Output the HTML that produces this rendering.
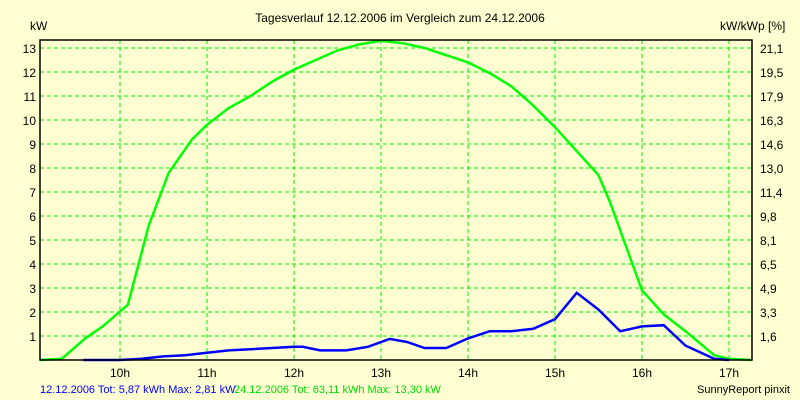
<!DOCTYPE html>
<html><head><meta charset="utf-8"><style>
body{margin:0;background:#ffffd2;}
svg{display:block;font-family:"Liberation Sans",sans-serif;}
</style></head><body>
<svg id="c" width="800" height="400">
<rect width="800" height="400" fill="#ffffd2"/>
<text x="400" y="22" text-anchor="middle" font-size="12">Tagesverlauf 12.12.2006 im Vergleich zum 24.12.2006</text>
<text x="30" y="30" font-size="12">kW</text>
<text x="720" y="30" font-size="12">kW/kWp [%]</text>
<g id="grid"></g>
<g id="series"></g>
<g id="axes"></g>
<text x="40" y="393" font-size="11" fill="#0000ff">12.12.2006 Tot: 5,87 kWh Max: 2,81 kW</text>
<text x="234" y="393" font-size="11" fill="#00dd00">24.12.2006 Tot: 63,11 kWh Max: 13,30 kW</text>
<text x="790" y="393" font-size="11" text-anchor="end">SunnyReport pinxit</text>
</svg>
<script>
const hourTicks=[10,11,12,13,14,15,16,17];
const yTicks=[1,2,3,4,5,6,7,8,9,10,11,12,13];
const rightLabels=["1,6","3,3","4,9","6,5","8,1","9,8","11,4","13,0","14,6","16,3","17,9","19,5","21,1"];
const greenT=[9.08,9.33,9.6,9.8,10.09,10.33,10.56,10.83,11,11.25,11.5,11.75,12,12.25,12.5,12.75,13,13.25,13.5,13.75,14,14.25,14.5,14.75,15,15.25,15.5,15.63,15.8,16,16.25,16.5,16.83,17,17.26];
const greenV=[0,0.05,0.9,1.4,2.3,5.6,7.8,9.2,9.8,10.5,11.0,11.6,12.1,12.5,12.9,13.15,13.3,13.2,13.0,12.7,12.4,11.95,11.4,10.6,9.7,8.7,7.7,6.6,4.9,2.9,1.9,1.2,0.2,0.05,0];
const blueT=[9.58,10,10.25,10.5,10.75,11,11.25,11.5,11.75,12,12.1,12.3,12.6,12.85,13.1,13.3,13.5,13.75,14,14.25,14.5,14.75,15,15.25,15.5,15.75,16,16.25,16.5,16.83,17];
const blueV=[0,0,0.05,0.15,0.2,0.3,0.4,0.45,0.5,0.55,0.55,0.4,0.4,0.55,0.88,0.75,0.5,0.5,0.9,1.2,1.2,1.3,1.7,2.8,2.1,1.2,1.4,1.45,0.6,0.05,0];
const NS="http://www.w3.org/2000/svg";
const X=t=>120+(t-10)*87, Y=v=>360-v*24;
function mk(tag,attrs,parent){const e=document.createElementNS(NS,tag);for(const k in attrs)e.setAttribute(k,attrs[k]);document.getElementById(parent).appendChild(e);return e;}
hourTicks.forEach(h=>{
 const l=mk('line',{x1:X(h),x2:X(h),y1:40,y2:360,stroke:'#00ee00','stroke-dasharray':'4,3'},'grid');
 
 
 const t=mk('text',{x:X(h),y:377,'text-anchor':'middle','font-size':12},'axes');t.textContent=h+'h';
 
 
});
yTicks.forEach((v,i)=>{
 const l=mk('line',{x1:40,x2:752,y1:Y(v),y2:Y(v),stroke:'#00ee00','stroke-dasharray':'4,3'},'grid');
 
 
 const t=mk('text',{x:36,y:Y(v)+5,'text-anchor':'end','font-size':12},'axes');t.textContent=v;
 
 
 const r=mk('text',{x:760,y:Y(v)+5,'font-size':12},'axes');r.textContent=rightLabels[i];
 
 
});
const fr=mk('path',{d:'M40,40H752V360H40Z',fill:'none',stroke:'#000','stroke-width':1.5},'axes');


const g=mk('polyline',{points:greenT.map((t,i)=>X(t)+','+Y(greenV[i])).join(' '),fill:'none',stroke:'#00ff00','stroke-width':2.5},'series');


const b=mk('polyline',{points:blueT.map((t,i)=>X(t)+','+Y(blueV[i])).join(' '),fill:'none',stroke:'#0000ff','stroke-width':2.5},'series');


</script>
</body></html>
